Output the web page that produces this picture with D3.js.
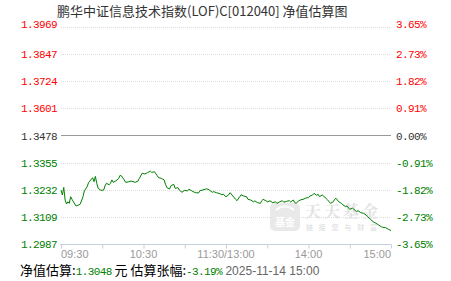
<!DOCTYPE html>
<html>
<head>
<meta charset="utf-8">
<script src="https://cdn.jsdelivr.net/npm/d3@7/dist/d3.min.js"></script>
<style>
  body { margin: 0; background: #fff; }
  svg { display: block; }
</style>
</head>
<body>
<figure id="chart" style="margin:0"></figure>
<script>
// chart values
const titleText = "鹏华中证信息技术指数(LOF)C[012040] 净值估算图";
const baseValue = 1.3478;
const yTicks = [1.3969, 1.3847, 1.3724, 1.3601, 1.3478, 1.3355, 1.3232, 1.3109, 1.2987];
const pctTicks = ["3.65%", "2.73%", "1.82%", "0.91%", "0.00%", "-0.91%", "-1.82%", "-2.73%", "-3.65%"];
const xTickLabels = ["09:30", "10:30", "11:30/13:00", "14:00", "15:00"];

const times = [
  "09:30","09:31","09:32","09:33","09:34","09:35","09:36","09:37","09:38","09:40",
  "09:41","09:43","09:44","09:46","09:47","09:49","09:50","09:52","09:53","09:54",
  "09:55","09:56","09:57","09:59","10:01","10:02","10:03","10:05","10:06","10:07",
  "10:08","10:10","10:12","10:13","10:14","10:16","10:17","10:19","10:21","10:24",
  "10:26","10:27","10:29","10:31","10:33","10:35","10:36","10:38","10:40","10:41",
  "10:43","10:45","10:46","10:47","10:49","10:50","10:52","10:53","10:55","10:56",
  "10:58","11:00","11:02","11:03","11:05","11:06","11:08","11:10","11:11","11:14",
  "11:16","11:18","11:20","11:21","11:23","11:25","11:27","11:28","11:30",
  "13:02","13:03","13:05","13:07","13:08","13:10","13:11","13:13","13:15","13:16",
  "13:18","13:20","13:21","13:23","13:25","13:26","13:27","13:29","13:30","13:32",
  "13:34","13:36","13:37","13:39","13:41","13:42","13:44","13:46","13:47","13:49",
  "13:50","13:51","13:53","13:54","13:56","13:58","14:00","14:01","14:03","14:04",
  "14:06","14:07","14:08","14:10","14:12","14:14","14:15","14:16","14:18","14:19",
  "14:20","14:22","14:24","14:25","14:27","14:28","14:30","14:32","14:33","14:35",
  "14:36","14:38","14:40","14:42","14:43","14:45","14:47","14:49","14:51","14:53",
  "14:54","14:56","14:58","15:00"
];
const navValues = [
  1.3231,1.3209,1.3243,1.3186,1.3168,1.3178,1.3171,1.3201,1.3189,1.3168,
  1.3159,1.3164,1.3168,1.3201,1.3228,1.3246,1.3264,1.3280,1.3287,1.3269,
  1.3293,1.3262,1.3239,1.3230,1.3231,1.3250,1.3262,1.3255,1.3262,1.3277,
  1.3266,1.3273,1.3284,1.3298,1.3295,1.3277,1.3266,1.3268,1.3272,1.3266,
  1.3272,1.3284,1.3307,1.3304,1.3310,1.3317,1.3311,1.3314,1.3296,1.3287,
  1.3284,1.3277,1.3257,1.3242,1.3236,1.3251,1.3257,1.3239,1.3242,1.3231,
  1.3221,1.3230,1.3227,1.3235,1.3228,1.3224,1.3219,1.3218,1.3228,1.3233,
  1.3237,1.3231,1.3221,1.3224,1.3219,1.3216,1.3210,1.3212,1.3201,
  1.3210,1.3219,1.3204,1.3189,1.3183,1.3201,1.3210,1.3204,1.3201,1.3189,
  1.3186,1.3178,1.3182,1.3174,1.3171,1.3183,1.3189,1.3183,1.3178,1.3182,
  1.3174,1.3178,1.3171,1.3178,1.3183,1.3176,1.3180,1.3183,1.3177,1.3186,
  1.3174,1.3171,1.3183,1.3186,1.3189,1.3195,1.3197,1.3204,1.3209,1.3216,
  1.3207,1.3212,1.3201,1.3209,1.3198,1.3186,1.3178,1.3171,1.3178,1.3189,
  1.3194,1.3178,1.3171,1.3164,1.3156,1.3159,1.3144,1.3149,1.3144,1.3133,
  1.3138,1.3129,1.3126,1.3118,1.3111,1.3099,1.3088,1.3081,1.3073,1.3065,
  1.3063,1.3061,1.3054,1.3048
];

const width = 451, height = 281;
const plotLeft = 61, plotRight = 391, plotTop = 27, plotBottom = 244;
const monoFont = "'Liberation Mono', monospace";
const cjkFont = "'Noto Sans CJK SC', sans-serif";

// trading minutes since 09:30, lunch break squeezed out
function tradeMinute(t) {
  const [h, m] = t.split(":").map(Number);
  const mins = h * 60 + m;
  return mins <= 690 ? mins - 570 : mins - 780 + 120;
}

function labelColor(v) {
  if (v > baseValue) return "#ff0000";
  if (v < baseValue) return "#008000";
  return "#333";
}

const svg = d3.select("figure#chart")
  .append("svg")
  .attr("width", width)
  .attr("height", height);

const x = d3.scaleLinear().domain([0, 240]).range([plotLeft, plotRight]);
const y = d3.scaleLinear().domain([yTicks[yTicks.length - 1], yTicks[0]]).range([plotBottom, plotTop]);

// title
svg.append("text")
  .attr("x", 57).attr("y", 16)
  .attr("font-family", cjkFont).attr("font-size", 13)
  .attr("fill", "#333")
  .text(titleText);

// grid lines
svg.selectAll("line.grid")
  .data(yTicks.slice(0, -1))
  .enter()
  .append("line")
  .attr("x1", plotLeft).attr("x2", plotRight)
  .attr("y1", d => Math.round(y(d)) + 0.5)
  .attr("y2", d => Math.round(y(d)) + 0.5)
  .attr("stroke", d => d === baseValue ? "#999" : "#ddd")
  .attr("stroke-dasharray", d => d === baseValue ? null : "1,1");

// left value labels
svg.selectAll("text.lv")
  .data(yTicks)
  .enter()
  .append("text")
  .attr("x", 57)
  .attr("y", (d, i) => i === 0 ? y(d) + 0.5 : y(d) + 4)
  .attr("text-anchor", "end")
  .attr("font-family", monoFont).attr("font-size", 11)
  .attr("letter-spacing", -0.6)
  .attr("fill", d => labelColor(d))
  .text(d => d.toFixed(4));

// right percent labels
svg.selectAll("text.rv")
  .data(pctTicks)
  .enter()
  .append("text")
  .attr("x", 396)
  .attr("y", (d, i) => i === 0 ? y(yTicks[i]) + 0.5 : y(yTicks[i]) + 4)
  .attr("font-family", monoFont).attr("font-size", 11)
  .attr("letter-spacing", -0.6)
  .attr("fill", (d, i) => labelColor(yTicks[i]))
  .text(d => d);

// x axis
const xAxis = svg.append("g")
  .attr("transform", "translate(0," + (plotBottom + 0.5) + ")")
  .call(d3.axisBottom(x).tickValues(d3.range(0, 241, 30)).tickSize(4).tickFormat(""));
xAxis.select(".domain").attr("stroke", "#c5d0dc").attr("d", "M" + (plotLeft - 1) + ",0H" + plotRight);
xAxis.selectAll(".tick line").attr("stroke", "#c5d0dc");

svg.selectAll("text.xl")
  .data(xTickLabels)
  .enter()
  .append("text")
  .attr("x", (d, i) => x(i * 60))
  .attr("y", 258)
  .attr("text-anchor", (d, i) => i === 0 ? "start" : (i === xTickLabels.length - 1 ? "end" : "middle"))
  .attr("font-family", "'Liberation Sans', Arial, sans-serif").attr("font-size", 11)
  .attr("fill", "#999")
  .text(d => d);

// watermark
const wm = svg.append("g");
wm.append("rect")
  .attr("x", 270).attr("y", 203).attr("width", 30).attr("height", 28)
  .attr("rx", 5).attr("fill", "#e9e9e9");
wm.append("path")
  .attr("d", "M276,210 Q285,203 294,210")
  .attr("fill", "none").attr("stroke", "#fff").attr("stroke-width", 2);
wm.append("text")
  .attr("x", 285).attr("y", 226).attr("text-anchor", "middle")
  .attr("font-family", cjkFont).attr("font-size", 10).attr("font-weight", "bold")
  .attr("fill", "#fff").text("基金");
wm.append("text")
  .attr("x", 305).attr("y", 217)
  .attr("font-family", "'Noto Serif CJK SC', " + cjkFont).attr("font-size", 16).attr("font-weight", "bold")
  .attr("fill", "#e2e2e2").attr("textLength", 73).text("天天基金");
wm.append("text")
  .attr("x", 306).attr("y", 230)
  .attr("font-family", cjkFont).attr("font-size", 7)
  .attr("fill", "#d9d9d9").attr("textLength", 71).text("链接您与财富");

// nav line
const line = d3.line()
  .x((d, i) => x(tradeMinute(times[i])))
  .y(d => y(d));

svg.append("path")
  .datum(navValues)
  .attr("d", line)
  .attr("fill", "none")
  .attr("stroke", "#008000")
  .attr("stroke-width", 1);

// footer
const last = navValues[navValues.length - 1];
const lastPct = ((last - baseValue) / baseValue * 100).toFixed(2) + "%";
const footer = svg.append("text")
  .attr("x", 20).attr("y", 275)
  .attr("font-family", cjkFont).attr("font-size", 13);
footer.append("tspan").attr("fill", "#000").text("净值估算:");
footer.append("tspan").attr("fill", "#008000").attr("font-family", monoFont).attr("font-size", 11)
  .attr("letter-spacing", -0.6).text(last.toFixed(4));
footer.append("tspan").attr("fill", "#000").text(" 元 估算张幅:");
footer.append("tspan").attr("fill", "#008000").attr("font-family", monoFont).attr("font-size", 11)
  .attr("letter-spacing", -0.6).text(lastPct);
footer.append("tspan").attr("fill", "#666").attr("font-family", "'Liberation Sans', Arial, sans-serif")
  .attr("font-size", 12).text(" " + "2025-11-14 15:00");
</script>
</body>
</html>
